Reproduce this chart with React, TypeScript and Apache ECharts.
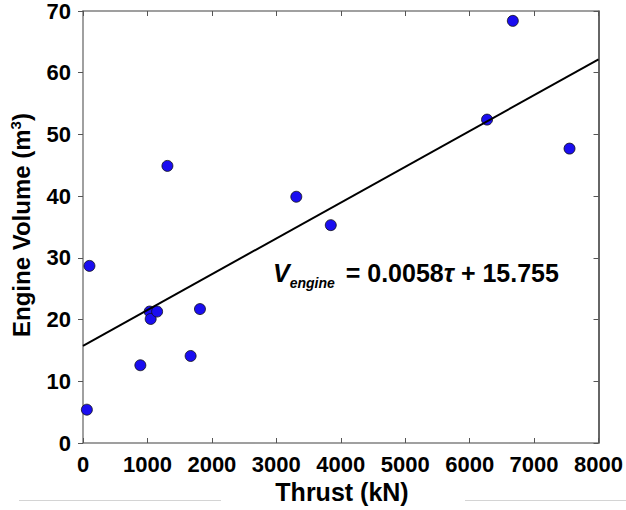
import React, { useEffect, useRef } from "react";
import * as echarts from "echarts";

const thrust = [60, 100, 890, 1035, 1050, 1150, 1310, 1670, 1815, 3310, 3845, 6270, 6670, 7550];
const volume = [5.4, 28.7, 12.6, 21.3, 20.1, 21.3, 44.9, 14.1, 21.7, 39.9, 35.3, 52.4, 68.4, 47.7];
const SLOPE = 0.0058;
const INTERCEPT = 15.755;
const X_MIN = 0;
const X_MAX = 8000;
const Y_MIN = 0;
const Y_MAX = 70;

const FONT = "'Liberation Sans', Arial, sans-serif";

export default function App() {
  const ref = useRef<HTMLDivElement>(null);
  useEffect(() => {
    if (!ref.current) return;
    const chart = echarts.init(ref.current, undefined, { renderer: "svg" });
    const points = thrust.map((t, i) => [t, volume[i]]);
    const fit = [
      [X_MIN, INTERCEPT + SLOPE * X_MIN],
      [X_MAX, INTERCEPT + SLOPE * X_MAX],
    ];
    const tickLabel = { fontFamily: FONT, fontWeight: "bold", fontSize: 22, color: "#000" };
    chart.setOption({
      animation: false,
      backgroundColor: "#fff",
      grid: { left: 83, right: 25, top: 7, bottom: 67, containLabel: false },
      xAxis: [
        {
          type: "value",
          min: X_MIN,
          max: X_MAX,
          interval: 1000,
          position: "bottom",
          axisLine: { show: true, lineStyle: { color: "#808080", width: 1.5 } },
          axisTick: { show: true, inside: true, length: 5, lineStyle: { color: "#555" } },
          axisLabel: { ...tickLabel, margin: 10, formatter: (v: number) => String(v) },
          splitLine: { show: false },
        },
        {
          type: "value",
          min: X_MIN,
          max: X_MAX,
          interval: 1000,
          position: "top",
          axisLine: { show: true, onZero: false, lineStyle: { color: "#808080", width: 1.5 } },
          axisTick: { show: true, inside: true, length: 5, lineStyle: { color: "#555" } },
          axisLabel: { show: false },
          splitLine: { show: false },
        },
      ],
      yAxis: [
        {
          type: "value",
          min: Y_MIN,
          max: Y_MAX,
          interval: 10,
          position: "left",
          axisLine: { show: true, lineStyle: { color: "#808080", width: 1.5 } },
          axisTick: { show: true, inside: false, length: 5, lineStyle: { color: "#555" } },
          axisLabel: { ...tickLabel, margin: 12, formatter: (v: number) => String(v) },
          splitLine: { show: false },
        },
        {
          type: "value",
          min: Y_MIN,
          max: Y_MAX,
          interval: 10,
          position: "right",
          axisLine: { show: true, onZero: false, lineStyle: { color: "#333", width: 1.5 } },
          axisTick: { show: true, inside: true, length: 5, lineStyle: { color: "#555" } },
          axisLabel: { show: false },
          splitLine: { show: false },
        },
      ],
      series: [
        {
          type: "scatter",
          xAxisIndex: 0,
          yAxisIndex: 0,
          data: points,
          symbol: "circle",
          symbolSize: 11,
          itemStyle: { color: "#1a0df0", borderColor: "#111", borderWidth: 0.8, opacity: 1 },
          z: 2,
        },
        {
          type: "line",
          xAxisIndex: 0,
          yAxisIndex: 0,
          data: fit,
          symbol: "none",
          lineStyle: { color: "#000", width: 2 },
          z: 3,
        },
      ],
      graphic: [
        {
          type: "text",
          x: 21,
          y: 225,
          rotation: Math.PI / 2,
          style: {
            text: "Engine Volume (m{sup|3})",
            fontFamily: FONT,
            fontWeight: "bold",
            fontSize: 24,
            fill: "#000",
            align: "center",
            verticalAlign: "middle",
            rich: {
              sup: {
                fontFamily: FONT,
                fontWeight: "bold",
                fontSize: 15,
                verticalAlign: "top",
                lineHeight: 26,
                fill: "#000",
              },
            },
          },
        },
        {
          type: "text",
          x: 342,
          y: 492,
          style: {
            text: "Thrust (kN)",
            fontFamily: FONT,
            fontWeight: "bold",
            fontSize: 25,
            fill: "#000",
            align: "center",
            verticalAlign: "middle",
          },
        },
        {
          type: "text",
          x: 273,
          y: 260,
          style: {
            text: "{v|V}{s|engine}{n| = 0.0058}{t|τ}{n| + 15.755}",
            fill: "#000",
            rich: {
              v: { fontFamily: FONT, fontWeight: "bold", fontStyle: "italic", fontSize: 25, lineHeight: 30, verticalAlign: "top", fill: "#000" },
              s: { fontFamily: FONT, fontWeight: "bold", fontStyle: "italic", fontSize: 14, lineHeight: 30, verticalAlign: "bottom", padding: [0, 4, 0, 0], fill: "#000" },
              n: { fontFamily: FONT, fontWeight: "bold", fontSize: 25, lineHeight: 30, verticalAlign: "top", fill: "#000" },
              t: { fontFamily: FONT, fontWeight: "bold", fontStyle: "italic", fontSize: 25, lineHeight: 30, verticalAlign: "top", fill: "#000" },
            },
          },
        },
        {
          type: "line",
          shape: { x1: 19, y1: 500.5, x2: 221, y2: 500.5 },
          style: { stroke: "#d4d4d4", lineWidth: 1 },
        },
        {
          type: "line",
          shape: { x1: 465, y1: 500.5, x2: 626, y2: 500.5 },
          style: { stroke: "#d4d4d4", lineWidth: 1 },
        },
      ],
    });
    return () => chart.dispose();
  }, []);
  return <div ref={ref} style={{ width: 626, height: 510, position: "absolute", left: 0, top: 0 }} />;
}
